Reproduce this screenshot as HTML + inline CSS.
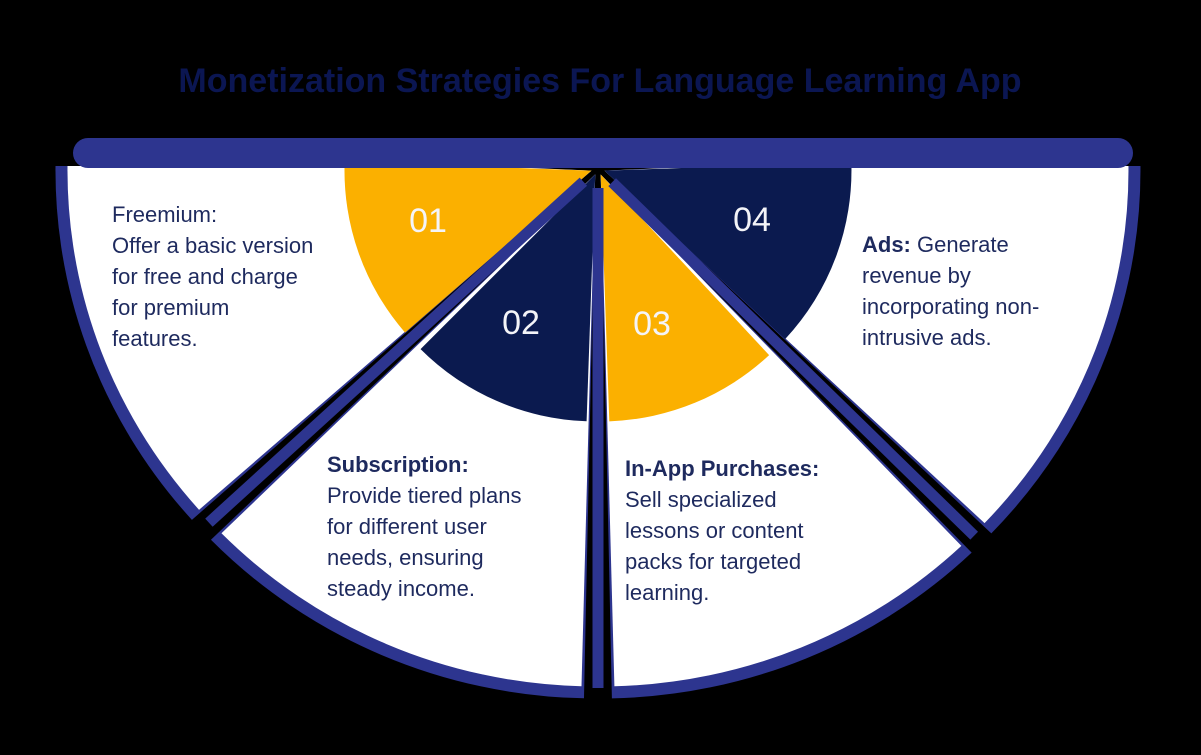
<!DOCTYPE html>
<html><head><meta charset="utf-8"><style>
html,body{margin:0;padding:0;background:#000;width:1201px;height:755px;overflow:hidden}
svg{display:block}
text{font-family:"Liberation Sans","DejaVu Sans",sans-serif}
</style></head><body>
<svg id="s" width="1201" height="755" viewBox="0 0 1201 755">
<defs><clipPath id="cl"><rect x="0" y="166" width="1201" height="600"/></clipPath></defs>
<text x="600" y="92" text-anchor="middle" font-size="34" font-weight="bold" fill="#0b1652">Monetization Strategies For Language Learning App</text>
<g id="wedges" clip-path="url(#cl)"></g>
<rect x="73" y="138" width="1060" height="30" rx="15" fill="#2d358f"/>
<g fill="#1e2a5e" font-size="22">
<text x="112" y="222"><tspan x="112">Freemium:</tspan><tspan x="112" dy="31">Offer a basic version</tspan><tspan x="112" dy="31">for free and charge</tspan><tspan x="112" dy="31">for premium</tspan><tspan x="112" dy="31">features.</tspan></text>
<text x="327" y="472"><tspan x="327" font-weight="bold">Subscription:</tspan><tspan x="327" dy="31">Provide tiered plans</tspan><tspan x="327" dy="31">for different user</tspan><tspan x="327" dy="31">needs, ensuring</tspan><tspan x="327" dy="31">steady income.</tspan></text>
<text x="625" y="476"><tspan x="625" font-weight="bold">In-App Purchases:</tspan><tspan x="625" dy="31">Sell specialized</tspan><tspan x="625" dy="31">lessons or content</tspan><tspan x="625" dy="31">packs for targeted</tspan><tspan x="625" dy="31">learning.</tspan></text>
<text x="862" y="252"><tspan x="862" font-weight="bold">Ads:</tspan><tspan> Generate</tspan><tspan x="862" dy="31">revenue by</tspan><tspan x="862" dy="31">incorporating non-</tspan><tspan x="862" dy="31">intrusive ads.</tspan></text>
</g>
<g fill="#f4f4f8" font-size="34">
<text x="428" y="232" text-anchor="middle">01</text>
<text x="521" y="334" text-anchor="middle">02</text>
<text x="652" y="335" text-anchor="middle">03</text>
<text x="752" y="231" text-anchor="middle">04</text>
</g>
</svg>
<script>
const segNames=['freemium','subscription','in-app','ads'];
const startAngles=[180,137,90,45];
const endAngles=[137,90,45,0];
const innerColors=['#fbb000','#0b1a4f','#fbb000','#0b1a4f'];
const cx=598,cy=168,RX=524,RY=512,Ri=247;
const NS='http://www.w3.org/2000/svg';
const g=document.getElementById('wedges');
function pt(rx,ry,a){const t=a*Math.PI/180;return [cx+rx*Math.cos(t),cy+ry*Math.sin(t)];}
function sector(rx,ry,a0,a1,ox,oy){const p0=pt(rx,ry,a0),p1=pt(rx,ry,a1);
return `M${cx+ox},${cy+oy} L${p0[0]+ox},${p0[1]+oy} A${rx},${ry} 0 0 0 ${p1[0]+ox},${p1[1]+oy} Z`;}
function mk(d,fill,name){const p=document.createElementNS(NS,'path');p.setAttribute('d',d);p.setAttribute('fill',fill);


g.appendChild(p);}
for(let i=0;i<4;i++){
 const mid=(startAngles[i]+endAngles[i])/2*Math.PI/180;
 const ox=7*Math.cos(mid),oy=7*Math.sin(mid);
 const s=startAngles[i]===180?184:startAngles[i], e=endAngles[i]===0?-4:endAngles[i];
 mk(sector(RX+12,RY+12,s-1.2,e+1.2,ox,oy),'#2d358f',segNames[i]+'-rim');
 mk(sector(RX,RY,s-1.5,e+1.5,ox,oy),'#ffffff',segNames[i]+'-segment');
 mk(sector(Ri,Ri,s-2,e+2,ox,oy),innerColors[i],segNames[i]+'-inner');
}
for(let i=1;i<4;i++){
 const a=startAngles[i];const p0=pt(20,20,a),p1=pt(RX+8,RY+8,a);
 const l=document.createElementNS(NS,'line');
 l.setAttribute('x1',p0[0]);l.setAttribute('y1',p0[1]);l.setAttribute('x2',p1[0]);l.setAttribute('y2',p1[1]);
 l.setAttribute('stroke','#2d358f');l.setAttribute('stroke-width','11');
 
 
 g.appendChild(l);
}
</script>
</body></html>
